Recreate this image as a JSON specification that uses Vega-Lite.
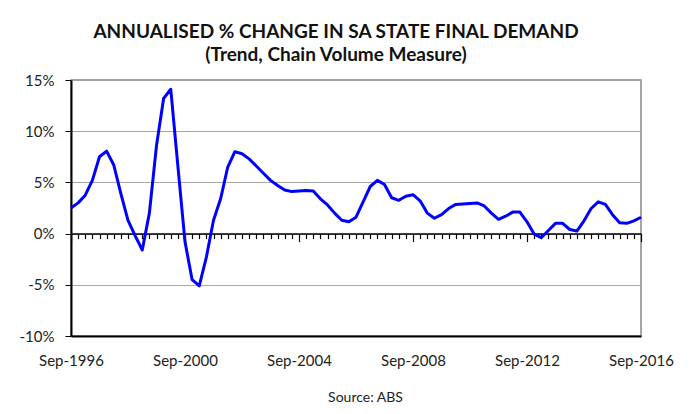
{
  "$schema": "https://vega.github.io/schema/vega-lite/v6.json",
  "width": 570,
  "height": 256,
  "autosize": {"type": "none"},
  "padding": {"left": 71, "top": 80, "right": 51, "bottom": 78},
  "background": "white",
  "title": {
    "text": ["ANNUALISED % CHANGE IN SA STATE FINAL DEMAND", "(Trend, Chain Volume Measure)"],
    "font": "Lato",
    "fontSize": 19,
    "fontWeight": "bold",
    "color": "#111",
    "lineHeight": 23,
    "anchor": "middle",
    "dx": -20,
    "offset": 8
  },
  "data": {
    "values": [
      {"q": "Sep-1996", "v": 2.5}, {"q": "Dec-1996", "v": 3.0}, {"q": "Mar-1997", "v": 3.75}, {"q": "Jun-1997", "v": 5.2},
      {"q": "Sep-1997", "v": 7.5}, {"q": "Dec-1997", "v": 8.05}, {"q": "Mar-1998", "v": 6.7}, {"q": "Jun-1998", "v": 3.9},
      {"q": "Sep-1998", "v": 1.3}, {"q": "Dec-1998", "v": -0.2}, {"q": "Mar-1999", "v": -1.6}, {"q": "Jun-1999", "v": 2.0},
      {"q": "Sep-1999", "v": 8.6}, {"q": "Dec-1999", "v": 13.2}, {"q": "Mar-2000", "v": 14.1}, {"q": "Jun-2000", "v": 6.6},
      {"q": "Sep-2000", "v": -0.8}, {"q": "Dec-2000", "v": -4.5}, {"q": "Mar-2001", "v": -5.1}, {"q": "Jun-2001", "v": -2.3},
      {"q": "Sep-2001", "v": 1.3}, {"q": "Dec-2001", "v": 3.4}, {"q": "Mar-2002", "v": 6.5}, {"q": "Jun-2002", "v": 8.0},
      {"q": "Sep-2002", "v": 7.8}, {"q": "Dec-2002", "v": 7.3}, {"q": "Mar-2003", "v": 6.6}, {"q": "Jun-2003", "v": 5.9},
      {"q": "Sep-2003", "v": 5.2}, {"q": "Dec-2003", "v": 4.7}, {"q": "Mar-2004", "v": 4.25}, {"q": "Jun-2004", "v": 4.1},
      {"q": "Sep-2004", "v": 4.15}, {"q": "Dec-2004", "v": 4.2}, {"q": "Mar-2005", "v": 4.15}, {"q": "Jun-2005", "v": 3.4},
      {"q": "Sep-2005", "v": 2.8}, {"q": "Dec-2005", "v": 2.0}, {"q": "Mar-2006", "v": 1.3}, {"q": "Jun-2006", "v": 1.15},
      {"q": "Sep-2006", "v": 1.6}, {"q": "Dec-2006", "v": 3.1}, {"q": "Mar-2007", "v": 4.6}, {"q": "Jun-2007", "v": 5.2},
      {"q": "Sep-2007", "v": 4.8}, {"q": "Dec-2007", "v": 3.5}, {"q": "Mar-2008", "v": 3.25}, {"q": "Jun-2008", "v": 3.65},
      {"q": "Sep-2008", "v": 3.8}, {"q": "Dec-2008", "v": 3.2}, {"q": "Mar-2009", "v": 2.0}, {"q": "Jun-2009", "v": 1.5},
      {"q": "Sep-2009", "v": 1.85}, {"q": "Dec-2009", "v": 2.45}, {"q": "Mar-2010", "v": 2.85}, {"q": "Jun-2010", "v": 2.9},
      {"q": "Sep-2010", "v": 2.95}, {"q": "Dec-2010", "v": 3.0}, {"q": "Mar-2011", "v": 2.7}, {"q": "Jun-2011", "v": 2.0},
      {"q": "Sep-2011", "v": 1.4}, {"q": "Dec-2011", "v": 1.7}, {"q": "Mar-2012", "v": 2.1}, {"q": "Jun-2012", "v": 2.1},
      {"q": "Sep-2012", "v": 1.15}, {"q": "Dec-2012", "v": -0.05}, {"q": "Mar-2013", "v": -0.4}, {"q": "Jun-2013", "v": 0.3},
      {"q": "Sep-2013", "v": 1.0}, {"q": "Dec-2013", "v": 1.0}, {"q": "Mar-2014", "v": 0.4}, {"q": "Jun-2014", "v": 0.25},
      {"q": "Sep-2014", "v": 1.25}, {"q": "Dec-2014", "v": 2.45}, {"q": "Mar-2015", "v": 3.1}, {"q": "Jun-2015", "v": 2.85},
      {"q": "Sep-2015", "v": 1.85}, {"q": "Dec-2015", "v": 1.05}, {"q": "Mar-2016", "v": 1.0}, {"q": "Jun-2016", "v": 1.25},
      {"q": "Sep-2016", "v": 1.6}
    ]
  },
  "mark": {"type": "line", "color": "#0000ff", "strokeWidth": 3, "strokeJoin": "round"},
  "encoding": {
    "x": {
      "field": "q",
      "type": "ordinal",
      "sort": null,
      "scale": {"type": "point", "padding": 0},
      "axis": {
        "offset": -102.4,
        "domainColor": "black",
        "domainWidth": 1.5,
        "tickColor": "black",
        "tickSize": {"condition": {"test": "substring(datum.value,0,3)=='Sep' && (toNumber(substring(datum.value,4,8))-1996)%4==0", "value": 8}, "value": 5},
        "tickWidth": 1.2,
        "grid": false,
        "labelAngle": 0,
        "labelOverlap": false,
        "labelFlush": false,
        "labelFont": "Lato",
        "labelFontSize": 15,
        "labelColor": "#222",
        "labelBaseline": "top",
        "labelPadding": 112,
        "labelExpr": "(substring(datum.value,0,3)=='Sep' && (toNumber(substring(datum.value,4,8))-1996)%4==0) ? datum.value : ''",
        "title": "Source: ABS",
        "titleFont": "Lato",
        "titleFontSize": 14,
        "titleFontWeight": "normal",
        "titleColor": "#222",
        "titleX": 294,
        "titleY": 164,
        "titleAlign": "center",
        "titleBaseline": "middle"
      }
    },
    "y": {
      "field": "v",
      "type": "quantitative",
      "scale": {"domain": [-10, 15], "nice": false, "zero": false},
      "axis": {
        "values": [-10, -5, 0, 5, 10, 15],
        "labelExpr": "datum.value + '%'",
        "labelFont": "Lato",
        "labelFontSize": 15,
        "labelColor": "#222",
        "labelPadding": 11,
        "tickSize": 6,
        "tickColor": "black",
        "domainColor": "black",
        "domainWidth": 2,
        "grid": true,
        "gridColor": {"condition": {"test": "datum.value == -10", "value": "black"}, "value": "#a6a6a6"},
        "gridWidth": {"condition": {"test": "datum.value == -10", "value": 2}, "value": 1},
        "title": null
      }
    }
  },
  "config": {
    "view": {"stroke": "#888", "strokeWidth": 1.5}
  }
}
